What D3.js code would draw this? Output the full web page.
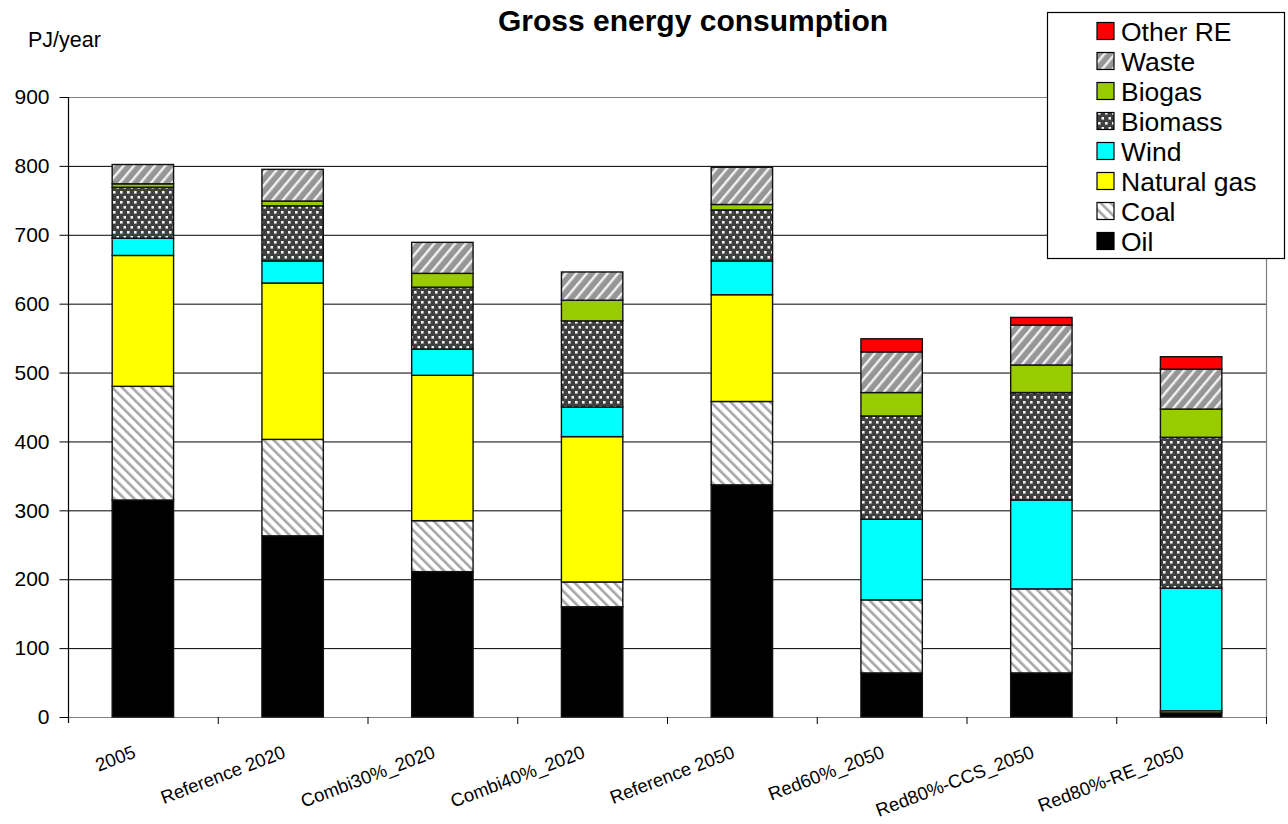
<!DOCTYPE html>
<html>
<head>
<meta charset="utf-8">
<script src="https://cdn.jsdelivr.net/npm/d3@7"></script>
<style>
  body { margin: 0; background: #fff; }
  text { font-family: "Liberation Sans", Arial, sans-serif; fill: #000; }
</style>
</head>
<body>
<svg id="chart" width="1288" height="824"></svg>
<script>
// Scenario categories
const categories = ["2005", "Reference 2020", "Combi30%_2020", "Combi40%_2020",
                    "Reference 2050", "Red60%_2050", "Red80%-CCS_2050", "Red80%-RE_2050"];

// Energy source contributions, PJ/year
const oil        = [315, 263, 211, 160, 337,  64,  64,   6];
const coal       = [165, 140,  74,  36, 121, 106, 122,   0];
const naturalGas = [190, 227, 211, 211, 155,   0,   0,   3];
const wind       = [ 25,  32,  38,  43,  49, 117, 129, 178];
const biomass    = [ 74,  80,  90, 125,  74, 150, 156, 219];
const biogas     = [  5,   7,  20,  30,   8,  34,  40,  41];
const waste      = [ 28,  46,  45,  41,  54,  59,  58,  58];
const otherRE    = [  0,   0,   0,   0,   0,  19,  11,  18];

const seriesNames = ["Oil", "Coal", "Natural gas", "Wind", "Biomass", "Biogas", "Waste", "Other RE"];
const seriesData  = [oil, coal, naturalGas, wind, biomass, biogas, waste, otherRE];
const yTickValues = [0, 100, 200, 300, 400, 500, 600, 700, 800, 900];

const fills = {
  "Oil": "#000000",
  "Coal": "url(#pat-coal)",
  "Natural gas": "#ffff00",
  "Wind": "#00ffff",
  "Biomass": "url(#pat-biomass)",
  "Biogas": "#99cc00",
  "Waste": "url(#pat-waste)",
  "Other RE": "#ff0000"
};

const svg = d3.select("#chart");
const plot = { left: 68, right: 1266, top: 97, bottom: 717 };

// ---- fill patterns ----
const defs = svg.append("defs");

// Coal: grey diagonal stripes on white, falling to the right
const pc = defs.append("pattern").attr("id", "pat-coal")
  .attr("patternUnits", "userSpaceOnUse").attr("width", 7).attr("height", 7)
  .attr("patternTransform", "rotate(-45)");
pc.append("rect").attr("width", 7).attr("height", 7).attr("fill", "#ffffff");
pc.append("rect").attr("x", 0).attr("width", 2.6).attr("height", 7).attr("fill", "#a6a6a6");

// Waste: white diagonal stripes on grey, rising to the right
const pw = defs.append("pattern").attr("id", "pat-waste")
  .attr("patternUnits", "userSpaceOnUse").attr("width", 8).attr("height", 8)
  .attr("patternTransform", "rotate(40)");
pw.append("rect").attr("width", 8).attr("height", 8).attr("fill", "#969696");
pw.append("rect").attr("x", 0).attr("width", 2.4).attr("height", 8).attr("fill", "#f2f2f2");

// Biomass: small white squares on dark grey, staggered rows
const pb = defs.append("pattern").attr("id", "pat-biomass")
  .attr("patternUnits", "userSpaceOnUse").attr("width", 7).attr("height", 10);
pb.append("rect").attr("width", 7).attr("height", 10).attr("fill", "#404040");
pb.append("rect").attr("x", 1).attr("y", 1).attr("width", 2.6).attr("height", 2.6).attr("fill", "#f4f4f4");
pb.append("rect").attr("x", 4.5).attr("y", 6).attr("width", 2.6).attr("height", 2.6).attr("fill", "#f4f4f4");

// ---- scales ----
const x = d3.scaleBand().domain(categories)
  .range([plot.left, plot.right]).paddingInner(0.59).paddingOuter(0.295);
const y = d3.scaleLinear().domain([0, 900]).range([plot.bottom, plot.top]);

// ---- gridlines ----
svg.append("g").selectAll("line").data(yTickValues.filter(v => v > 0 && v < 900)).join("line")
  .attr("x1", plot.left).attr("x2", plot.right)
  .attr("y1", d => y(d) + 0.5).attr("y2", d => y(d) + 0.5)
  .attr("stroke", "#000").attr("stroke-width", 1);

// plot area border (top / right / bottom)
svg.append("path")
  .attr("d", `M${plot.left},${y(900) + 0.5}H${plot.right + 0.5}V${plot.bottom + 0.5}H${plot.left}`)
  .attr("fill", "none").attr("stroke", "#808080").attr("stroke-width", 1.2);

// ---- stacked bars ----
const rows = categories.map((c, i) => {
  const r = { category: c };
  seriesNames.forEach((s, k) => { r[s] = seriesData[k][i]; });
  return r;
});
const stacked = d3.stack().keys(seriesNames)(rows);

const layers = svg.append("g").selectAll("g").data(stacked).join("g")
  .attr("fill", d => fills[d.key]);
layers.selectAll("rect").data(d => d.filter(p => p[1] - p[0] > 0)).join("rect")
  .attr("x", p => x(p.data.category))
  .attr("width", x.bandwidth())
  .attr("y", p => y(p[1]))
  .attr("height", p => y(p[0]) - y(p[1]))
  .attr("stroke", "#111").attr("stroke-width", 1.4);

// ---- y axis ----
const yAxis = svg.append("g").attr("transform", `translate(${plot.left + 0.5},0)`)
  .call(d3.axisLeft(y).tickValues(yTickValues).tickSize(9).tickPadding(10).tickFormat(d3.format("d")));
yAxis.select(".domain").attr("stroke", "#000").attr("stroke-width", 1.2)
  .attr("d", `M0,${plot.top}V${plot.bottom + 6}`);
yAxis.selectAll(".tick line").attr("stroke", "#000");
yAxis.selectAll(".tick text").attr("font-size", 21).attr("fill", "#000")
  .attr("font-family", '"Liberation Sans", Arial, sans-serif');

// ---- x axis: ticks at category boundaries ----
const boundaries = d3.range(1, categories.length + 1).map(i => plot.left + i * x.step());
svg.append("g").selectAll("line").data(boundaries).join("line")
  .attr("x1", d => d + 0.5).attr("x2", d => d + 0.5)
  .attr("y1", plot.bottom).attr("y2", plot.bottom + 7)
  .attr("stroke", "#000").attr("stroke-width", 1);

svg.append("g").selectAll("text").data(categories).join("text")
  .attr("transform", d => `translate(${x(d) + x.bandwidth() / 2 - 6},757) rotate(-21)`)
  .attr("text-anchor", "end")
  .attr("font-size", 18.5)
  .text(d => d);

// ---- titles ----
svg.append("text").attr("x", 693).attr("y", 31).attr("text-anchor", "middle")
  .attr("font-size", 30).attr("font-weight", "bold").text("Gross energy consumption");
svg.append("text").attr("x", 28).attr("y", 47).attr("font-size", 21.5).text("PJ/year");

// ---- legend ----
const legend = svg.append("g");
legend.append("rect").attr("x", 1047.5).attr("y", 12.5).attr("width", 237).attr("height", 246)
  .attr("fill", "#fff").attr("stroke", "#000").attr("stroke-width", 1.2);
const legendOrder = seriesNames.slice().reverse();
const li = legend.selectAll("g.item").data(legendOrder).join("g")
  .attr("transform", (d, i) => `translate(1097,${31 + i * 30})`);
li.append("rect").attr("x", 0).attr("y", -8.5).attr("width", 17).attr("height", 17)
  .attr("fill", d => fills[d]).attr("stroke", "#000").attr("stroke-width", 1.2);
li.append("text").attr("x", 24).attr("y", 9.5).attr("font-size", 26.5).text(d => d);
</script>
</body>
</html>
